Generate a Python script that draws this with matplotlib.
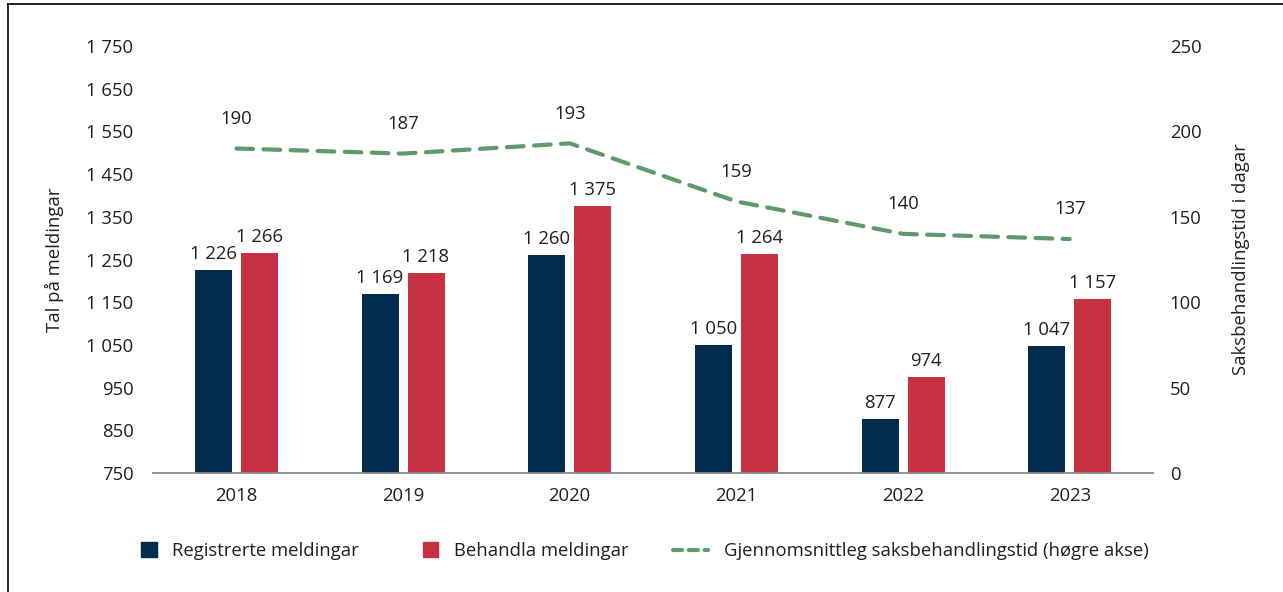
import numpy as np
import matplotlib
matplotlib.use("Agg")
from matplotlib import pyplot as plt
from matplotlib.lines import Line2D
from matplotlib.patches import Patch, Rectangle
from matplotlib.legend_handler import HandlerPatch

plt.rcParams['font.family'] = ['Open Sans', 'DejaVu Sans']

# Data
years = ["2018", "2019", "2020", "2021", "2022", "2023"]
registrerte = [1226, 1169, 1260, 1050, 877, 1047]
behandla = [1266, 1218, 1375, 1264, 974, 1157]
saksbehandlingstid = [190, 187, 193, 159, 140, 137]

left_ticks = [750, 850, 950, 1050, 1150, 1250, 1350, 1450, 1550, 1650, 1750]
right_ticks = [0, 50, 100, 150, 200, 250]

navy = "#032b4d"
red = "#c63142"
green = "#5e9a6c"
text_col = "#231f20"
fs = 13.3


def fmt(v):
    return f"{v:,}".replace(",", " ")


def square(legend, orig_handle, xdescent, ydescent, width, height, fontsize):
    s = 11.0
    return Rectangle((width - s - xdescent, -ydescent + (height - s) / 2), s, s)


def main() -> None:
    fig = plt.figure(figsize=(12.83, 5.92), dpi=100)
    ax = fig.add_axes([0.1193, 0.201, 0.7794, 0.7213])

    x = np.arange(len(years))
    w = 0.222
    off = 0.138

    b1 = ax.bar(x - off, registrerte, w, color=navy, zorder=2)
    b2 = ax.bar(x + off, behandla, w, color=red, zorder=2)

    for bars, vals in ((b1, registrerte), (b2, behandla)):
        for b, v in zip(bars, vals):
            ax.annotate(fmt(v), (b.get_x() + b.get_width() / 2, v),
                        xytext=(0, 5), textcoords="offset points",
                        ha="center", va="bottom", fontsize=fs, color=text_col)

    ax.set_xlim(-0.5, len(years) - 0.5)
    ax.set_ylim(750, 1750)
    ax.set_yticks(left_ticks)
    ax.set_yticklabels([fmt(t) for t in left_ticks])
    ax.set_xticks(x)
    ax.set_xticklabels(years)
    ax.tick_params(axis="both", length=0, labelsize=fs, labelcolor=text_col)
    ax.tick_params(axis="y", pad=14)
    ax.tick_params(axis="x", pad=10)
    for s in ("top", "right", "left"):
        ax.spines[s].set_visible(False)
    ax.spines["bottom"].set_color("#8a8a8a")
    ax.spines["bottom"].set_linewidth(1.3)
    ax.set_ylabel("Tal på meldingar", fontsize=fs, color=text_col, labelpad=16)

    ax2 = ax.twinx()
    ax2.plot(x, saksbehandlingstid, color=green, lw=3, linestyle=(0, (4, 2.5)),
             dash_capstyle="round", zorder=3)
    for xi, v in zip(x, saksbehandlingstid):
        ax2.annotate(str(v), (xi, v), xytext=(0, 15), textcoords="offset points",
                     ha="center", va="bottom", fontsize=fs, color=text_col)
    ax2.set_ylim(0, 250)
    ax2.set_yticks(right_ticks)
    ax2.tick_params(axis="y", length=0, labelsize=fs, labelcolor=text_col, pad=12)
    for s in ("top", "right", "left", "bottom"):
        ax2.spines[s].set_visible(False)
    ax2.set_ylabel("Saksbehandlingstid i dagar", fontsize=fs, color=text_col, labelpad=22)

    p1 = Patch(color=navy)
    p2 = Patch(color=red)
    l1 = Line2D([0], [0], color=green, lw=3, linestyle=(0, (2.2, 1.6)), dash_capstyle="round")
    labels = ["Registrerte meldingar", "Behandla meldingar",
              "Gjennomsnittleg saksbehandlingstid (høgre akse)"]
    fig.legend([p1, p2, l1], labels, loc="center", bbox_to_anchor=(0.495, 0.069), ncol=3,
               frameon=False, fontsize=fs, handlelength=1.9,
               handletextpad=0.85, columnspacing=2.4, labelcolor=text_col,
               handler_map={Patch: HandlerPatch(patch_func=square)})

    # frame on left and top
    fig.add_artist(Line2D([0.0065, 0.0065], [0, 0.993], color="black", lw=1.2,
                          transform=fig.transFigure))
    fig.add_artist(Line2D([0.0065, 1], [0.993, 0.993], color="black", lw=1.2,
                          transform=fig.transFigure))

    fig.savefig("out.png", dpi=100)


if __name__ == "__main__":
    main()
